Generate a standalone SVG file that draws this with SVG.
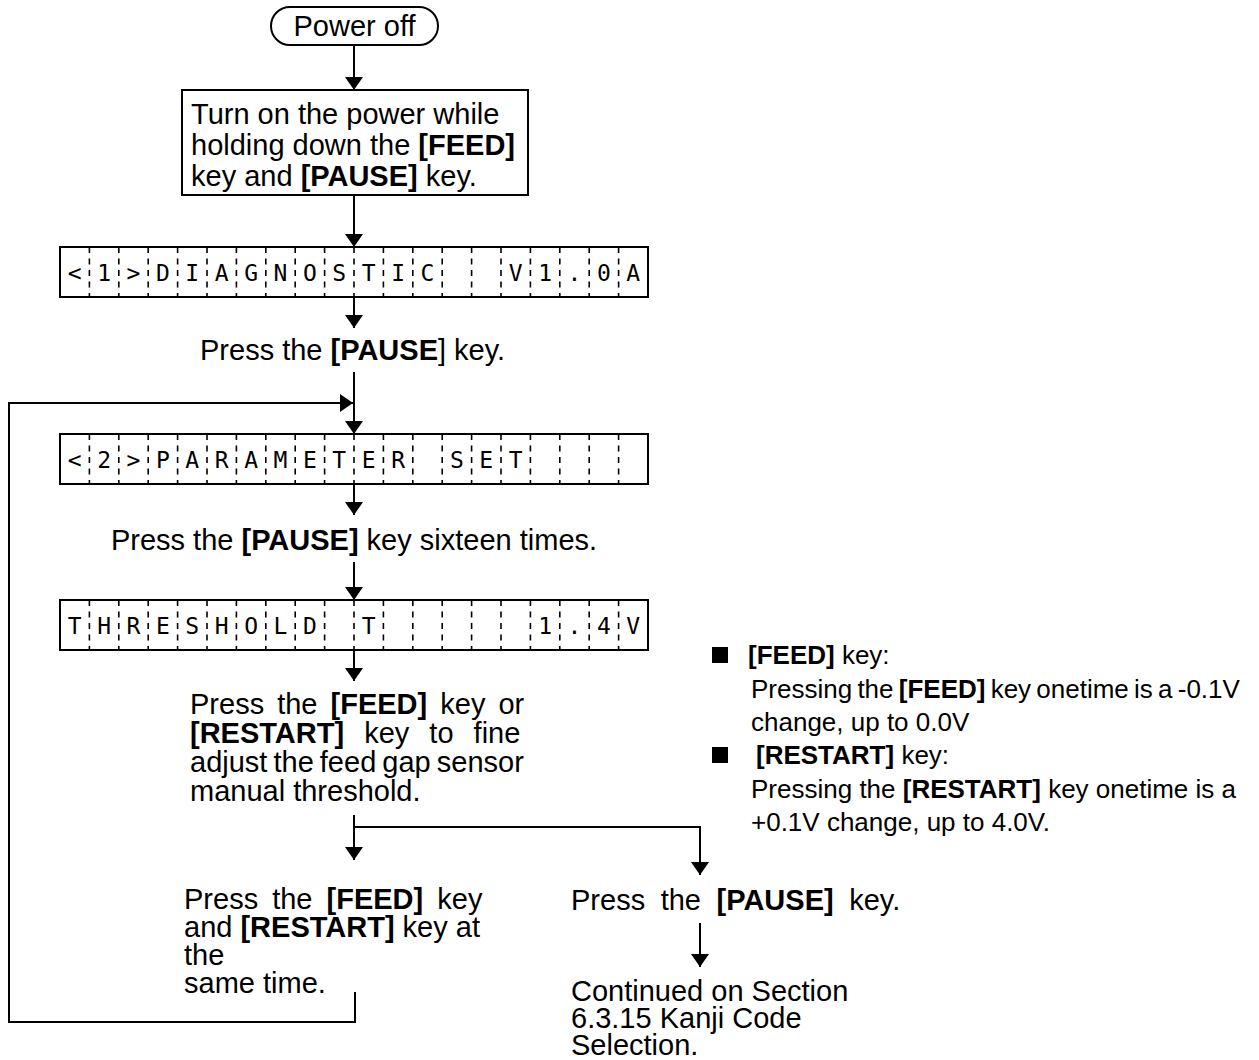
<svg xmlns="http://www.w3.org/2000/svg" xmlns:xlink="http://www.w3.org/1999/xlink" width="1259" height="1060" viewBox="0 0 1259 1060">
<style>
.t{font-family:"Liberation Sans",Arial,sans-serif;font-size:29px;fill:#000}
.n{font-size:26px}
.b{font-weight:bold}
.lcd{font-family:"DejaVu Sans Mono","Liberation Mono",monospace;font-size:23px;fill:#000;text-anchor:middle}
.frm{fill:#fff;stroke:#000;stroke-width:2}
.dv{fill:none;stroke:#000;stroke-width:1.6;stroke-dasharray:6 5.5}
.ln{fill:none;stroke:#000;stroke-width:2}
</style>
<defs>
<marker id="ah" viewBox="0 0 13 18" refX="13" refY="9" markerWidth="13" markerHeight="18" markerUnits="userSpaceOnUse" orient="auto">
<path d="M0,0 L13,9 L0,18 Z" fill="#000"/>
</marker>
<g id="lcdframe">
<rect class="frm" x="60" y="0" width="588" height="50"/>
<path class="dv" d="M89.4,0v50M118.8,0v50M148.2,0v50M177.6,0v50M207,0v50M236.4,0v50M265.8,0v50M295.2,0v50M324.6,0v50M354,0v50M383.4,0v50M412.8,0v50M442.2,0v50M471.6,0v50M501,0v50M530.4,0v50M559.8,0v50M589.2,0v50M618.6,0v50"/>
</g>
</defs>
<rect width="1259" height="1060" fill="#fff"/>

<g id="connectors">
<line class="ln" x1="354" y1="45" x2="354" y2="90" marker-end="url(#ah)"/>
<line class="ln" x1="354" y1="195" x2="354" y2="247" marker-end="url(#ah)"/>
<line class="ln" x1="354" y1="297" x2="354" y2="328" marker-end="url(#ah)"/>
<line class="ln" x1="354" y1="372" x2="354" y2="434" marker-end="url(#ah)"/>
<line class="ln" x1="354" y1="484" x2="354" y2="515" marker-end="url(#ah)"/>
<line class="ln" x1="354" y1="562" x2="354" y2="600" marker-end="url(#ah)"/>
<line class="ln" x1="354" y1="650" x2="354" y2="681" marker-end="url(#ah)"/>
<line class="ln" x1="354" y1="815" x2="354" y2="860" marker-end="url(#ah)"/>
<polyline class="ln" points="354,827 700,827 700,875" marker-end="url(#ah)"/>
<line class="ln" x1="700" y1="923" x2="700" y2="967" marker-end="url(#ah)"/>
<polyline class="ln" points="355,992 355,1022 9,1022 9,403 353,403" marker-end="url(#ah)"/>
</g>

<g id="power-off">
<rect class="frm" x="271" y="7" width="167" height="38" rx="19" ry="19"/>
<text class="t" x="354.5" y="36" text-anchor="middle">Power off</text>
</g>

<g id="turn-on">
<rect class="frm" x="182" y="90" width="346" height="105"/>
<text class="t" x="191" y="124">Turn on the power while</text>
<text class="t" x="191" y="155">holding down the <tspan class="b">[FEED]</tspan></text>
<text class="t" x="191" y="186">key and <tspan class="b">[PAUSE]</tspan> key.</text>
</g>

<g id="lcd-diagnostic">
<use xlink:href="#lcdframe" y="247"/>
<text class="lcd" y="280.5" x="74.7 104.1 133.5 162.9 192.3 221.7 251.1 280.5 309.9 339.3 368.7 398.1 427.5">&lt;1&gt;DIAGNOSTIC</text>
<text class="lcd" y="280.5" x="515.7 545.1 574.5 603.9 633.3">V1.0A</text>
</g>

<g id="press-pause">
<text class="t" x="200" y="360">Press the <tspan class="b">[PAUSE</tspan>] key.</text>
</g>

<g id="lcd-parameter">
<use xlink:href="#lcdframe" y="434"/>
<text class="lcd" y="467.5" x="74.7 104.1 133.5 162.9 192.3 221.7 251.1 280.5 309.9 339.3 368.7 398.1">&lt;2&gt;PARAMETER</text>
<text class="lcd" y="467.5" x="456.9 486.3 515.7">SET</text>
</g>

<g id="press-pause-16">
<text class="t" x="354" y="550" text-anchor="middle">Press the <tspan class="b">[PAUSE]</tspan> key sixteen times.</text>
</g>

<g id="lcd-threshold">
<use xlink:href="#lcdframe" y="600"/>
<text class="lcd" y="633.5" x="74.7 104.1 133.5 162.9 192.3 221.7 251.1 280.5 309.9">THRESHOLD</text>
<text class="lcd" y="633.5" x="368.7">T</text>
<text class="lcd" y="633.5" x="545.1 574.5 603.9 633.3">1.4V</text>
</g>

<g id="adjust">
<text class="t" x="190" y="714" word-spacing="5">Press the <tspan class="b">[FEED]</tspan> key or</text>
<text class="t" x="190" y="743" word-spacing="12"><tspan class="b">[RESTART]</tspan> key to fine</text>
<text class="t" x="190" y="772" word-spacing="-2">adjust the feed gap sensor</text>
<text class="t" x="190" y="801">manual threshold.</text>
</g>

<g id="notes">
<rect x="712" y="647" width="16" height="16" fill="#000"/>
<text class="t n" x="748" y="664"><tspan class="b">[FEED]</tspan> key:</text>
<text class="t n" x="751" y="698" word-spacing="-2">Pressing the <tspan class="b">[FEED]</tspan> key onetime is a -0.1V</text>
<text class="t n" x="751" y="731">change, up to 0.0V</text>
<rect x="712" y="747" width="16" height="16" fill="#000"/>
<text class="t n" x="756" y="764"><tspan class="b">[RESTART]</tspan> key:</text>
<text class="t n" x="751" y="798">Pressing the <tspan class="b">[RESTART]</tspan> key onetime is a</text>
<text class="t n" x="751" y="831">+0.1V change, up to 4.0V.</text>
</g>

<g id="feed-restart-same-time">
<text class="t" x="184" y="909" word-spacing="6">Press the <tspan class="b">[FEED]</tspan> key</text>
<text class="t" x="184" y="937">and <tspan class="b">[RESTART]</tspan> key at</text>
<text class="t" x="184" y="965">the</text>
<text class="t" x="184" y="993">same time.</text>
</g>

<g id="press-pause-final">
<text class="t" x="571" y="910" word-spacing="7.5">Press the <tspan class="b">[PAUSE]</tspan> key.</text>
</g>

<g id="continued">
<text class="t" x="571" y="1001">Continued on Section</text>
<text class="t" x="571" y="1028">6.3.15 Kanji Code</text>
<text class="t" x="571" y="1055">Selection.</text>
</g>
</svg>
